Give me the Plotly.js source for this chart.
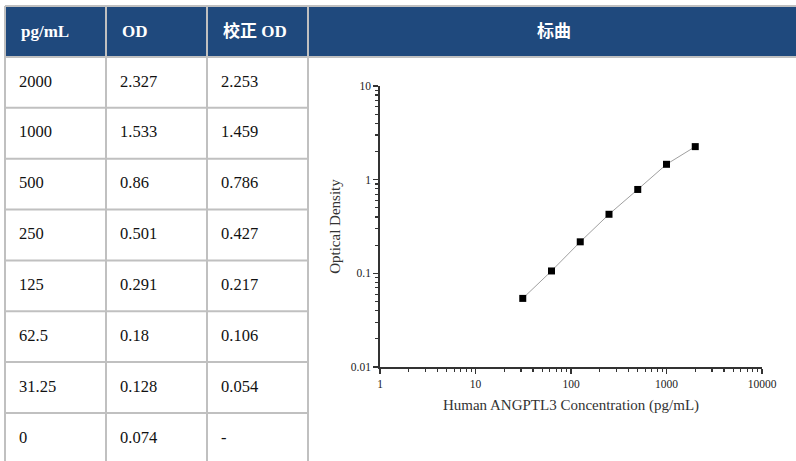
<!DOCTYPE html>
<html>
<head>
<meta charset="utf-8">
<script src="https://cdn.plot.ly/plotly-3.0.1.min.js"></script>
<style>
html,body{margin:0;padding:0;background:#fff;overflow:hidden;}
#wrap{width:796px;height:461px;overflow:hidden;}
</style>
</head>
<body>
<div id="wrap"><div id="chart"></div></div>
<script>
// ---- data ----
const concLabels = ["2000", "1000", "500", "250", "125", "62.5", "31.25", "0"];
const odLabels = ["2.327", "1.533", "0.86", "0.501", "0.291", "0.18", "0.128", "0.074"];
const corrLabels = ["2.253", "1.459", "0.786", "0.427", "0.217", "0.106", "0.054", "-"];
const tableHeaders = ["pg/mL", "OD", "校正 OD"];
const curveHeader = "标曲";

const concentration = [31.25, 62.5, 125, 250, 500, 1000, 2000];
const correctedOD = [0.054, 0.106, 0.217, 0.427, 0.786, 1.459, 2.253];

const xTickVals = [1, 10, 100, 1000, 10000];
const xTickText = ["1", "10", "100", "1000", "10000"];
const yTickVals = [0.01, 0.1, 1, 10];
const yTickText = ["0.01", "0.1", "1", "10"];

const xTitle = "Human ANGPTL3 Concentration (pg/mL)";
const yTitle = "Optical Density";

// ---- layout (pixel geometry) ----
const W = 796, H = 480;
const px = v => v / W;
const py = v => 1 - v / H;

const colLeft = [5, 106, 207, 308];
const tableRight = 800;
const headerTop = 6, headerBottom = 57, rowH = 50.85;
const cellPad = 14, headPad = 16;
const rowTop = i => headerBottom + i * rowH;

const NAVY = "#1f497d";
const GRID = "#c0c0c0";
const SERIF = "Liberation Serif";
const HEADFONT = "Liberation Serif, Noto Sans CJK SC";

function minorTicks(lo, hi) {
  const out = [];
  for (let d = lo; d < hi; d++) {
    for (let k = 2; k <= 9; k++) out.push(k * Math.pow(10, d));
  }
  return out;
}

const traces = [];

// table header text
traces.push({
  type: "scatter", mode: "text", xaxis: "x2", yaxis: "y2",
  x: tableHeaders.map((_, c) => colLeft[c] + headPad),
  y: tableHeaders.map(() => (headerTop + headerBottom) / 2 + 1),
  text: tableHeaders.map(h => "<b>" + h + "</b>"),
  textposition: "middle right",
  textfont: {family: HEADFONT, size: 17, color: "#ffffff"},
  hoverinfo: "skip", showlegend: false
});
traces.push({
  type: "scatter", mode: "text", xaxis: "x2", yaxis: "y2",
  x: [(colLeft[3] + tableRight) / 2],
  y: [(headerTop + headerBottom) / 2 + 1],
  text: ["<b>" + curveHeader + "</b>"],
  textposition: "middle center",
  textfont: {family: HEADFONT, size: 17, color: "#ffffff"},
  hoverinfo: "skip", showlegend: false
});

// table body text
[concLabels, odLabels, corrLabels].forEach((col, c) => {
  traces.push({
    type: "scatter", mode: "text", xaxis: "x2", yaxis: "y2",
    x: col.map(() => colLeft[c] + cellPad),
    y: col.map((_, i) => rowTop(i) + rowH / 2),
    text: col,
    textposition: "middle right",
    textfont: {family: SERIF, size: 16.5, color: "#111111"},
    hoverinfo: "skip", showlegend: false
  });
});

// standard curve
traces.push({
  type: "scatter",
  mode: "lines+markers",
  x: concentration,
  y: correctedOD,
  xaxis: "x",
  yaxis: "y",
  line: {color: "#a0a0a0", width: 1},
  marker: {symbol: "square", size: 7, color: "#000000"},
  showlegend: false,
  hoverinfo: "x+y"
});

// table shapes
const shapes = [];
shapes.push({type: "rect", xref: "x2", yref: "y2", x0: colLeft[0], x1: tableRight, y0: headerTop, y1: headerBottom,
  fillcolor: NAVY, line: {width: 0}, layer: "below"});
const lineStyle = {color: GRID, width: 2};
shapes.push({type: "line", xref: "x2", yref: "y2", x0: colLeft[0], x1: tableRight, y0: headerTop, y1: headerTop, line: lineStyle});
shapes.push({type: "line", xref: "x2", yref: "y2", x0: colLeft[0], x1: tableRight, y0: headerBottom, y1: headerBottom, line: lineStyle});
concLabels.forEach((_, i) => {
  const y = rowTop(i + 1);
  shapes.push({type: "line", xref: "x2", yref: "y2", x0: colLeft[0], x1: colLeft[3], y0: y, y1: y, line: lineStyle});
});
colLeft.forEach(x => {
  shapes.push({type: "line", xref: "x2", yref: "y2", x0: x, x1: x, y0: headerTop, y1: H, line: lineStyle});
});

const axisCommon = {
  type: "log",
  showline: true,
  linecolor: "#333333",
  linewidth: 1.8,
  ticks: "outside",
  ticklen: 5,
  tickwidth: 1.2,
  tickcolor: "#333333",
  tickmode: "array",
  showgrid: false,
  zeroline: false,
  tickfont: {family: SERIF, size: 11.5, color: "#222222"},
  fixedrange: true
};

const layout = {
  width: W,
  height: H,
  margin: {l: 0, r: 0, t: 0, b: 0},
  paper_bgcolor: "#ffffff",
  plot_bgcolor: "rgba(0,0,0,0)",
  showlegend: false,
  shapes: shapes,
  xaxis2: {domain: [0, 1], range: [0, W], visible: false, fixedrange: true, anchor: "y2"},
  yaxis2: {domain: [0, 1], range: [H, 0], visible: false, fixedrange: true, anchor: "x2"},
  xaxis: Object.assign({}, axisCommon, {
    domain: [px(380), px(762)],
    range: [0, 4],
    tickvals: xTickVals,
    ticktext: xTickText,
    anchor: "y",
    minor: {tickmode: "array", tickvals: minorTicks(0, 4), ticks: "outside", ticklen: 3, tickcolor: "#333333", showgrid: false},
    title: {text: xTitle, font: {family: SERIF, size: 15, color: "#333333"}, standoff: 11}
  }),
  yaxis: Object.assign({}, axisCommon, {
    domain: [py(367), py(86)],
    range: [-2, 1],
    tickvals: yTickVals,
    ticktext: yTickText,
    anchor: "x",
    minor: {tickmode: "array", tickvals: minorTicks(-2, 1), ticks: "outside", ticklen: 3, tickcolor: "#333333", showgrid: false},
    title: {text: yTitle, font: {family: SERIF, size: 15, color: "#333333"}, standoff: 6}
  })
};

Plotly.newPlot("chart", traces, layout, {displayModeBar: false, staticPlot: true});
</script>
</body>
</html>
